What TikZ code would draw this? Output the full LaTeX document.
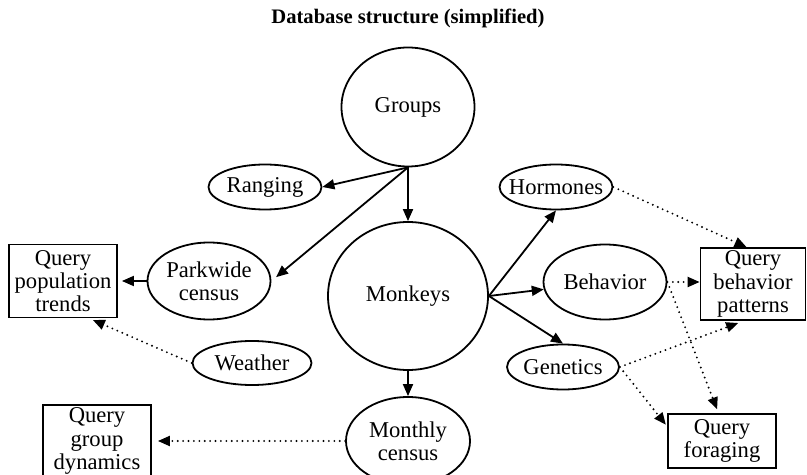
\documentclass[tikz,border=0pt]{standalone}
\usepackage{fontspec}
\setmainfont{Liberation Serif}
\usepackage{tikz}
\usetikzlibrary{shapes.geometric, arrows.meta}

\begin{document}
\begin{tikzpicture}[
        x=0.5pt, y=-0.5pt,
        font=\fontsize{11.3}{11.6}\selectfont,
        table/.style={ellipse, draw=black, line width=0.9pt, inner xsep=-5pt, inner ysep=0pt, align=center},
        query/.style={rectangle, draw=black, line width=0.9pt, inner sep=0pt, align=center},
        link/.style={-{Triangle[length=6pt,width=5pt]}, line width=0.9pt},
        feed/.style={link, line width=1.05pt, dash pattern=on 0pt off 2.7pt, line cap=round}
    ]
    \useasboundingbox (0,0) rectangle (807,475);

    % Title
    \node[font=\fontsize{10.3}{12}\selectfont\bfseries] (title) at (408,18) {Database structure (simplified)};

    % Core tables
    \node[table, minimum width=66.5pt, minimum height=59.5pt] (groups) at (408,107) {Groups};
    \node[table, minimum width=80pt, minimum height=74pt] (monkeys) at (408,296) {Monkeys};

    % Group data
    \node[table, minimum width=56.5pt, minimum height=22.5pt] (ranging) at (265,187) {Ranging};
    \node[table, minimum width=61.5pt, minimum height=38.5pt] (parkwide) at (209,281) {Parkwide\\census};
    \node[table, minimum width=59.5pt, minimum height=22pt] (weather) at (252,363) {Weather};
    \node[table, minimum width=62pt, minimum height=44pt] (monthly) at (408,441) {Monthly\\census};

    % Monkey data
    \node[table, minimum width=56.5pt, minimum height=22.5pt] (hormones) at (556,187) {Hormones};
    \node[table, minimum width=61.5pt, minimum height=37.5pt] (behavior) at (605,282) {Behavior};
    \node[table, minimum width=56pt, minimum height=22.5pt] (genetics) at (563,367) {Genetics};

    % Queries
    \node[query, minimum width=54pt, minimum height=36.5pt] (qpop) at (63,281) {Query\\population\\trends};
    \node[query, minimum width=54pt, minimum height=36pt] (qgroup) at (97,441) {Query\\group\\dynamics};
    \node[query, minimum width=52.5pt, minimum height=36pt] (qbehav) at (753,284) {Query\\behavior\\patterns};
    \node[query, minimum width=54pt, minimum height=27pt] (qforage) at (722,441) {Query\\foraging};

    % Arrows
    \draw[link] (groups.south) -- (ranging.east);
    \draw[link] (groups.south) -- (monkeys.north);
    \draw[link, shorten >=3pt] (groups.south) -- (parkwide.east);
    \draw[link] (monkeys.east) -- (hormones.south);
    \draw[link] (monkeys.east) -- (behavior);
    \draw[link] (monkeys.east) -- (genetics.north);
    \draw[link] (monkeys.south) -- (monthly.north);
    \draw[link, shorten >=2pt] (parkwide.west) -- (qpop.east);

    % Dotted arrows
    \draw[feed, shorten >=2pt] (weather.west) -- (qpop.-55);
    \draw[feed, shorten >=3pt] (monthly.west) -- (qgroup.east);
    \draw[feed] (hormones.east) -- (qbehav.100);
    \draw[feed] (behavior.east) -- (behavior.east -| qbehav.west);
    \draw[feed, shorten >=2pt] (behavior.east) -- (qforage.97);
    \draw[feed, shorten >=3pt] (genetics.east) -- (qbehav.-104);
    \draw[feed, shorten >=1pt] (genetics.east) -- (qforage.165);

\end{tikzpicture}
\end{document}
